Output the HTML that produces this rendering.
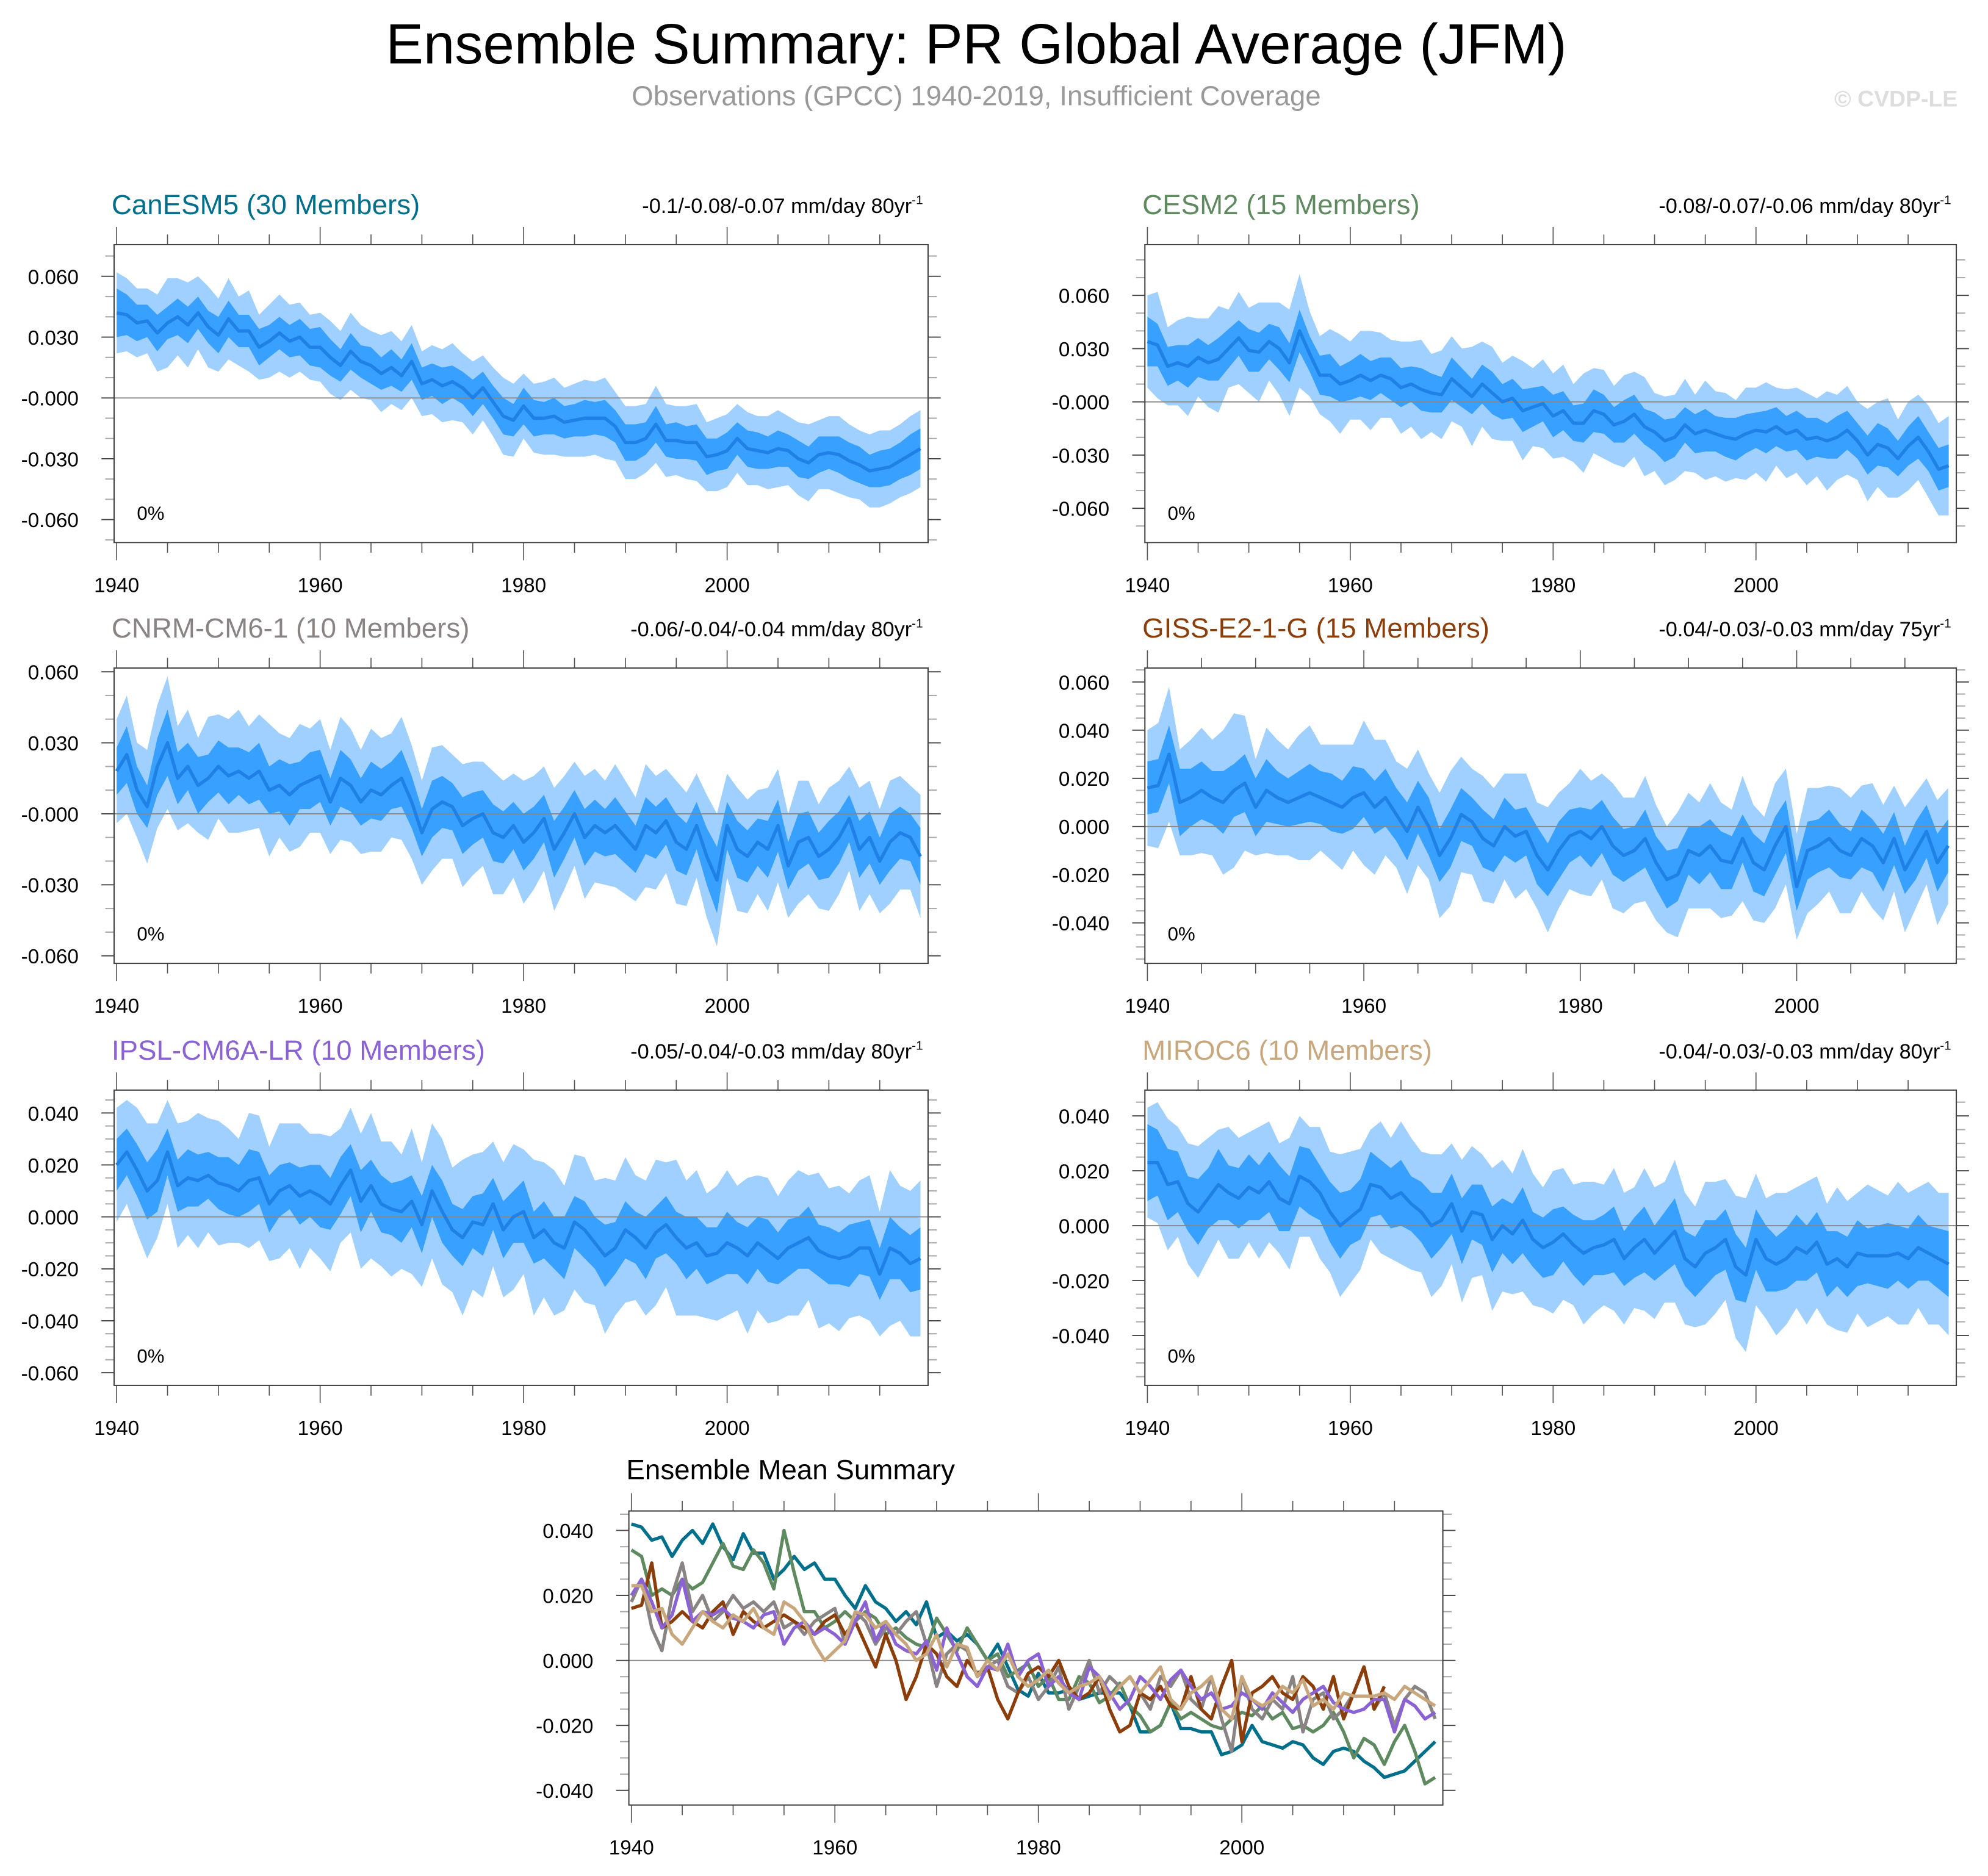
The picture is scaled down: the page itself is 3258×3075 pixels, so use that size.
<!DOCTYPE html>
<html><head><meta charset="utf-8"><title>Ensemble Summary: PR Global Average (JFM)</title>
<style>html,body{margin:0;padding:0;background:#fff}svg{display:block}text{font-family:"Liberation Sans",sans-serif}</style>
</head><body>
<svg id="fig" xmlns="http://www.w3.org/2000/svg" width="3258" height="3075" viewBox="0 0 1568 1480" preserveAspectRatio="none">
<text x="770" y="50" font-size="44.5" text-anchor="middle">Ensemble Summary: PR Global Average (JFM)</text>
<text x="770" y="83" font-size="22" fill="#999" text-anchor="middle">Observations (GPCC) 1940-2019, Insufficient Coverage</text>
<text x="1544" y="84" font-size="18" font-weight="bold" fill="#ddd" text-anchor="end">© CVDP-LE</text>
<g id="panels"></g>
</svg>
<script>
// values in units of 0.001 mm/day
const mCan=[42,41,37,38,32,37,40,36,42,35,31,39,33,33,25,28,32,28,30,25,25,20,16,23,18,16,12,15,11,18,7,9,6,8,5,0,5,-2,-9,-11,-4,-10,-10,-9,-12,-11,-10,-10,-10,-14,-22,-22,-20,-13,-21,-21,-22,-22,-29,-28,-26,-20,-25,-26,-27,-25,-26,-30,-32,-28,-27,-28,-31,-33,-36,-35,-34,-31,-28,-25];
const iCan=[12,10,9,8,9,8,9,9,8,8,9,9,8,8,9,8,8,8,9,9,10,9,8,9,8,9,8,9,8,9,8,8,9,8,8,9,8,8,9,8,9,9,8,9,8,8,9,8,9,8,9,9,8,9,8,9,8,9,9,8,9,8,9,9,8,9,8,9,8,9,8,9,9,9,8,9,9,9,10,10];
const oCan=[20,18,17,16,19,22,19,21,18,20,18,20,17,20,16,18,19,18,17,16,17,18,17,19,18,17,19,18,17,18,16,17,18,19,17,18,16,17,19,18,16,17,18,19,17,18,19,18,20,17,18,18,17,19,18,17,18,19,17,18,18,17,18,17,18,19,17,18,19,17,18,19,18,17,18,19,18,18,19,19];
const mCes=[34,32,20,22,20,25,22,24,30,36,29,28,34,30,22,40,27,15,15,10,12,15,12,15,13,8,10,7,5,4,13,8,3,10,5,0,2,-5,-3,-1,-8,-5,-12,-12,-5,-7,-13,-11,-7,-14,-17,-22,-20,-13,-18,-16,-18,-20,-21,-18,-16,-17,-14,-18,-16,-21,-20,-22,-20,-16,-22,-30,-24,-26,-32,-25,-20,-28,-38,-36];
const iCes=[14,12,11,10,12,11,10,12,11,10,12,11,10,12,11,12,10,11,12,10,11,12,11,10,12,11,10,12,11,10,12,11,10,11,12,10,11,12,11,10,12,11,10,11,12,11,10,12,11,10,11,12,11,10,11,12,10,11,12,11,10,12,11,10,11,12,11,10,12,11,10,11,12,11,10,11,12,11,12,12];
const oCes=[26,30,22,24,28,22,25,30,22,26,24,28,22,26,30,32,24,22,26,28,22,25,28,24,22,26,24,28,22,25,24,22,28,24,26,22,24,28,22,25,24,26,22,28,24,25,22,26,24,28,22,25,24,26,22,28,24,25,22,26,24,28,22,25,24,26,22,28,24,25,22,26,24,28,22,25,24,26,26,28];
const mCnr=[18,25,10,3,20,30,15,20,12,15,20,16,18,15,18,10,12,8,12,14,16,5,15,12,5,10,8,12,15,5,-8,2,5,3,-5,-2,0,-8,-10,-5,-12,-8,-2,-15,-8,0,-10,-5,-8,-5,-10,-15,-5,-8,-3,-12,-15,-5,-18,-28,-5,-15,-18,-12,-15,-5,-22,-12,-10,-18,-15,-10,-2,-15,-10,-20,-12,-8,-10,-18];
const iCnr=[10,12,10,9,12,14,11,10,12,10,11,12,10,11,12,10,11,13,10,12,11,10,12,11,10,12,11,10,12,11,10,12,11,10,12,11,10,12,11,10,12,11,10,12,11,10,12,11,10,12,11,10,12,11,10,12,11,10,12,14,10,12,11,10,12,11,10,12,11,10,12,11,10,12,11,10,12,11,10,12];
const oCnr=[22,25,20,24,26,28,22,24,20,26,22,24,26,22,24,28,22,24,26,22,24,22,26,24,22,26,24,22,26,24,22,26,24,22,26,24,22,26,24,22,26,24,22,26,24,22,26,24,22,26,24,22,26,24,22,26,24,22,26,28,22,26,24,22,26,24,22,26,24,22,26,24,22,26,24,22,26,24,22,26];
const mGis=[16,17,30,10,12,15,12,10,15,18,8,15,12,10,12,14,12,10,8,12,14,8,12,5,-2,8,0,-12,-5,5,2,-5,-8,0,-4,-2,-12,-18,-10,-4,-2,-5,0,-8,-12,-10,-5,-15,-22,-20,-10,-12,-8,-14,-15,-5,-15,-18,-8,0,-25,-10,-8,-5,-10,-12,-5,-8,-15,-5,-18,-10,-2,-15,-8];
const iGis=[11,11,12,14,12,12,11,13,11,12,12,13,11,10,11,12,11,12,11,13,10,11,12,11,12,11,12,11,12,11,10,12,11,12,11,10,12,11,12,11,10,12,11,12,11,10,12,11,12,11,10,12,11,12,11,10,12,11,12,11,10,12,11,12,11,10,12,11,12,11,10,12,11,12,11];
const oGis=[24,26,28,22,24,26,24,30,32,28,20,26,24,22,26,28,22,24,26,22,30,28,24,22,26,24,22,26,28,24,22,26,24,22,26,24,22,26,24,22,26,24,22,26,24,22,26,24,22,26,24,22,26,24,22,26,24,22,26,24,22,26,24,22,26,24,22,26,24,22,26,24,22,26,24];
const mIps=[20,25,18,10,14,25,12,15,14,16,13,12,10,14,15,5,10,12,8,10,8,5,12,18,6,12,5,3,2,6,-3,10,2,-5,-8,-2,-3,5,-5,0,2,-8,-5,-10,-12,-2,-5,-10,-15,-12,-5,-8,-12,-6,-3,-8,-12,-10,-15,-14,-10,-12,-15,-10,-13,-16,-12,-10,-8,-13,-15,-16,-15,-12,-12,-22,-12,-14,-18,-16];
const iIps=[10,9,10,11,12,9,10,11,10,9,10,11,10,12,10,11,10,9,11,10,12,10,11,10,12,10,11,10,12,10,11,10,12,10,11,10,12,10,11,10,12,10,11,10,12,10,11,10,12,10,11,10,12,10,11,10,12,10,11,10,12,10,11,10,12,10,11,10,12,10,11,10,12,10,11,10,12,10,11,12];
const oIps=[22,20,24,26,22,20,24,22,26,22,24,22,20,26,24,22,26,24,28,22,24,26,22,24,26,28,24,26,22,28,24,26,28,24,30,26,28,24,26,28,24,30,26,28,24,26,28,24,30,26,28,24,26,28,24,30,26,28,24,26,28,24,30,26,28,24,26,28,24,30,26,28,24,26,28,24,30,26,28,30];
const mMir=[23,23,15,16,8,5,10,15,12,10,14,12,16,10,8,18,16,12,5,0,3,6,15,14,10,12,8,5,0,2,8,-2,5,4,-5,0,-3,2,-5,-8,-6,-3,-7,-10,-8,-7,-5,-12,-8,-5,-10,-6,-2,-12,-15,-10,-8,-5,-15,-18,-5,-12,-14,-12,-8,-10,-6,-14,-12,-15,-10,-11,-11,-11,-10,-12,-8,-10,-12,-14];
const iMir=[14,12,13,11,10,12,11,13,10,11,12,10,11,12,10,11,12,10,11,12,10,11,12,10,11,12,10,11,12,10,11,12,10,11,12,10,11,12,10,11,12,10,11,12,10,11,12,10,11,12,10,11,12,10,11,12,10,11,12,10,11,12,10,11,12,10,11,12,10,11,12,10,11,12,10,11,12,10,11,12];
const oMir=[20,22,24,20,22,24,22,20,24,22,20,24,22,20,24,22,20,24,22,26,24,22,20,24,22,26,24,22,26,24,22,26,24,22,26,24,22,26,24,22,26,24,22,26,24,22,26,24,22,26,24,22,26,24,22,26,24,22,26,28,24,22,26,24,22,26,24,22,26,24,22,26,24,22,26,24,22,26,24,26];
const xTicks=[1940,1960,1980,2000];
const yTicks3=[60,30,0,-30,-60];
const yLabels3=["0.060","0.030","-0.000","-0.030","-0.060"];
const yTicksGis=[60,40,20,0,-20,-40];
const yLabelsGis=["0.060","0.040","0.020","0.000","-0.020","-0.040"];
const yTicksIps=[40,20,0,-20,-40,-60];
const yLabelsIps=["0.040","0.020","0.000","-0.020","-0.040","-0.060"];
const yTicksMir=[40,20,0,-20,-40];
const yLabelsMir=["0.040","0.020","0.000","-0.020","-0.040"];
const trends=["-0.1/-0.08/-0.07 mm/day 80yr","-0.08/-0.07/-0.06 mm/day 80yr","-0.06/-0.04/-0.04 mm/day 80yr","-0.04/-0.03/-0.03 mm/day 75yr","-0.05/-0.04/-0.03 mm/day 80yr","-0.04/-0.03/-0.03 mm/day 80yr"];

const NS="http://www.w3.org/2000/svg";
const root=document.getElementById('panels');
function el(tag,attrs,parent){const e=document.createElementNS(NS,tag);for(const k in attrs)e.setAttribute(k,attrs[k]);(parent||root).appendChild(e);return e;}

const panels=[
 {key:'canesm5',title:'CanESM5 (30 Members)',color:'#006f8c',m:mCan,i:iCan,o:oCan,box:[90,732,193,428],y:[-71.3,75.6],yt:yTicks3,yl:yLabels3,minor:10,trend:trends[0]},
 {key:'cesm2',title:'CESM2 (15 Members)',color:'#5f8a60',m:mCes,i:iCes,o:oCes,box:[903,1543,193,428],y:[-79.3,88.6],yt:yTicks3,yl:yLabels3,minor:10,trend:trends[1]},
 {key:'cnrm',title:'CNRM-CM6-1 (10 Members)',color:'#8a8384',m:mCnr,i:iCnr,o:oCnr,box:[90,732,527,760],y:[-63.2,61.6],yt:yTicks3,yl:yLabels3,minor:10,trend:trends[2]},
 {key:'giss',title:'GISS-E2-1-G (15 Members)',color:'#8b3d0a',m:mGis,i:iGis,o:oGis,box:[903,1543,527,760],y:[-56.8,65.8],yt:yTicksGis,yl:yLabelsGis,minor:5,trend:trends[3]},
 {key:'ipsl',title:'IPSL-CM6A-LR (10 Members)',color:'#8a62d4',m:mIps,i:iIps,o:oIps,box:[90,732,860,1093],y:[-64.9,48.8],yt:yTicksIps,yl:yLabelsIps,minor:5,trend:trends[4]},
 {key:'miroc6',title:'MIROC6 (10 Members)',color:'#c9a77c',m:mMir,i:iMir,o:oMir,box:[903,1543,860,1093],y:[-58.2,49.4],yt:yTicksMir,yl:yLabelsMir,minor:5,trend:trends[5]}
];

function axes(g,box,ymin,ymax,yt,yl,minor,xmax,nm){
 const [x0,x1,y0,y1]=box;
 const X=v=>x0+2+(v-1940)*(x1-x0-2)/(xmax-1939.75);
 const Y=v=>y1-(v-ymin)/(ymax-ymin)*(y1-y0);
 for(let yr=1940;yr<=xmax;yr+=5){
  const major=yr%20===0;const x=X(yr);
  const t1=el('line',{x1:x,x2:x,y1:y0,y2:y0-(major?14:8),stroke:'#555','stroke-width':0.8},g);
  
  
  const t2=el('line',{x1:x,x2:x,y1:y1,y2:y1+(major?14:8),stroke:'#555','stroke-width':0.8},g);
  
  
 }
 xTicks.forEach(yr=>{
  const t=el('text',{x:X(yr),y:y1+39,'font-size':16,'text-anchor':'middle'},g);t.textContent=yr;
  
  
 });
 for(let v=Math.ceil(ymin/minor)*minor;v<=ymax;v+=minor){
  const y=Y(v);const major=yt.indexOf(v)>=0;const L=major?10:7;
  const a=el('line',{x1:x0,x2:x0-L,y1:y,y2:y,stroke:major?'#444':'#aaa','stroke-width':major?0.9:1},g);
  
  
  const b=el('line',{x1:x1,x2:x1+L,y1:y,y2:y,stroke:major?'#444':'#aaa','stroke-width':major?0.9:1},g);
  
  
 }
 yt.forEach((v,k)=>{
  const t=el('text',{x:x0-28,y:Y(v)+6,'font-size':16,'text-anchor':'end'},g);t.textContent=yl[k];
  
  
 });
 return {X,Y};
}

panels.forEach(p=>{
 const g=el('g',{});
 
 
 const n=p.m.length;const xmax=1939+n+0.5;
 const [x0,x1,y0,y1]=p.box;
 const {X,Y}=axes(g,p.box,p.y[0],p.y[1],p.yt,p.yl,p.minor,xmax,p.key);
 const band=(arr,col,name)=>{
  let up=[],dn=[];
  for(let k=0;k<n;k++){up.push(X(1940+k)+','+Y(p.m[k]+arr[k]));dn.unshift(X(1940+k)+','+Y(p.m[k]-arr[k]));}
  const pg=el('polygon',{points:up.concat(dn).join(' '),fill:col},g);
  
  
 };
 band(p.o,'#a0d0ff','outer-spread-band');
 band(p.i,'#38a0ff','inner-spread-band');
 const z=el('line',{x1:x0,x2:x1,y1:Y(0),y2:Y(0),stroke:'#888','stroke-width':0.9},g);
 
 
 const pts=p.m.map((v,k)=>X(1940+k)+','+Y(v)).join(' ');
 const ml=el('polyline',{points:pts,fill:'none',stroke:'#1f80e6','stroke-width':2.6,'stroke-linejoin':'round'},g);
 
 
 const bx=el('rect',{x:x0,y:y0,width:x1-x0,height:y1-y0,fill:'none',stroke:'#444','stroke-width':1},g);
 
 
 const t=el('text',{x:x0-2,y:y0-24,'font-size':22,fill:p.color},g);t.textContent=p.title;
 
 
 const tr=el('text',{x:x1-4,y:y0-25,'font-size':16.5,'text-anchor':'end'},g);tr.textContent=p.trend;
 
 
 const sup=el('tspan',{dy:-7,'font-size':10},tr);sup.textContent='-1';
 const pc=el('text',{x:x0+18,y:y1-18,'font-size':15},g);pc.textContent='0%';
 
 
});

(function(){
 const g=el('g',{});
 
 
 const box=[496,1138,1192,1424];
 const yt=[40,20,0,-20,-40];const yl=["0.040","0.020","0.000","-0.020","-0.040"];
 const {X,Y}=axes(g,box,-44.5,46,yt,yl,5,2019.5,'summary');
 const z=el('line',{x1:box[0],x2:box[1],y1:Y(0),y2:Y(0),stroke:'#888','stroke-width':0.9},g);
 
 
 panels.forEach(p=>{
  const pts=p.m.map((v,k)=>X(1940+k)+','+Y(v)).join(' ');
  const l=el('polyline',{points:pts,fill:'none',stroke:p.color,'stroke-width':2.6,'stroke-linejoin':'round'},g);
  
  
 });
 const bx=el('rect',{x:box[0],y:box[2],width:box[1]-box[0],height:box[3]-box[2],fill:'none',stroke:'#444','stroke-width':1},g);
 
 
 const t=el('text',{x:494,y:1167,'font-size':22},g);t.textContent='Ensemble Mean Summary';
 
 
})();
</script>
</body></html>
